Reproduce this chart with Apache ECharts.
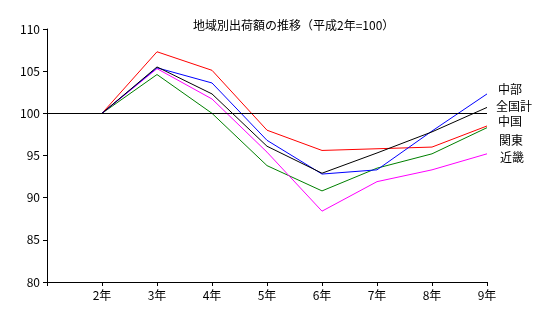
<!DOCTYPE html>
<html>
<head>
<meta charset="utf-8">
<script src="https://cdn.jsdelivr.net/npm/echarts@6/dist/echarts.min.js"></script>
<style>
  html, body { margin: 0; padding: 0; background: #fff; }
  #chart { width: 540px; height: 324px; }
</style>
</head>
<body>
<div id="chart"></div>
<script>
// 地域別出荷額の推移（平成2年=100）
const years = ['', '2年', '3年', '4年', '5年', '6年', '7年', '8年', '9年'];
const chubu   = [null, 100, 105.4, 103.6, 96.8, 92.8, 93.3, 97.9, 102.3];
const zenkoku = [null, 100, 105.5, 102.3, 96.1, 92.9, 95.3, 97.8, 100.7];
const chugoku = [null, 100, 107.3, 105.1, 98.0, 95.6, 95.8, 96.0, 98.5];
const kanto   = [null, 100, 104.6, 100.0, 93.8, 90.8, 93.5, 95.2, 98.3];
const kinki   = [null, 100, 105.3, 101.7, 95.4, 88.4, 91.9, 93.3, 95.2];
const yTicks  = { min: 80, max: 110, step: 5 };
const baseLine = 100;

const font = '"Noto Sans CJK JP", sans-serif';

function lineSeries(name, data, color, labelOffset, z) {
    return {
        name: name,
        type: 'line',
        data: data,
        showSymbol: false,
        symbol: 'none',
        z: z,
        lineStyle: { color: color, width: 1 },
        itemStyle: { color: color },
        endLabel: {
            show: true,
            formatter: '{a}',
            distance: 5,
            offset: labelOffset,
            color: '#000',
            fontSize: 12,
            fontFamily: font
        }
    };
}

const chart = echarts.init(document.getElementById('chart'));
const series = [
    lineSeries('中部', chubu, '#0000ff', [6, -4], 3),
    lineSeries('全国計', zenkoku, '#000000', [4, -1], 4),
    lineSeries('中国', chugoku, '#ff0000', [6, -5], 2),
    lineSeries('関東', kanto, '#008000', [7, 13], 2),
    lineSeries('近畿', kinki, '#ff00ff', [8, 4], 2)
];
series[1].markLine = {
    silent: true,
    symbol: 'none',
    label: { show: false },
    lineStyle: { color: '#000', width: 1, type: 'solid' },
    data: [{ yAxis: baseLine }]
};

chart.setOption({
    animation: false,
    backgroundColor: '#fff',
    title: {
        text: '地域別出荷額の推移（平成2年=100）',
        left: 188,
        top: 14,
        textStyle: { fontSize: 12, fontWeight: 'normal', color: '#000', fontFamily: font }
    },
    grid: { left: 47, right: 53, top: 29, bottom: 42 },
    xAxis: {
        type: 'category',
        data: years,
        boundaryGap: false,
        axisLine: { lineStyle: { color: '#000', width: 1 } },
        axisTick: { show: true, length: 4, lineStyle: { color: '#000' } },
        axisLabel: { color: '#000', fontSize: 12, fontFamily: font, margin: 7, interval: 0 },
        splitLine: { show: false }
    },
    yAxis: {
        type: 'value',
        min: yTicks.min,
        max: yTicks.max,
        interval: yTicks.step,
        axisLine: { show: true, lineStyle: { color: '#000', width: 1 } },
        axisTick: { show: true, length: 4, lineStyle: { color: '#000' } },
        axisLabel: { color: '#000', fontSize: 12, fontFamily: font, margin: 7 },
        splitLine: { show: false }
    },
    series: series
});
</script>
</body>
</html>
